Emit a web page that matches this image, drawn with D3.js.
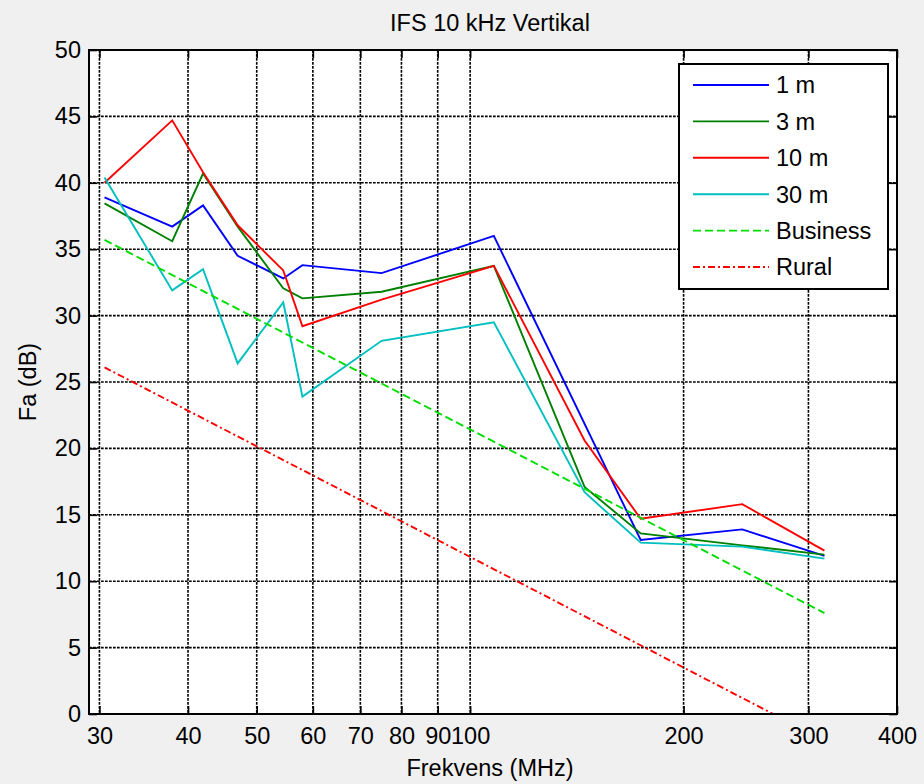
<!DOCTYPE html>
<html>
<head>
<meta charset="utf-8">
<script src="https://cdn.jsdelivr.net/npm/d3@7"></script>
<style>
  body { margin: 0; background: #f0f0f0; }
  svg text { font-family: "Liberation Sans", Arial, sans-serif; fill: #000; }
</style>
</head>
<body>
<div id="chart"></div>
<script>
// frequencies (MHz) where the measurements were taken
const freqs = [30.5, 38, 42, 47, 54.5, 58, 75, 108, 145, 174, 242, 316];

// Fa (dB) per antenna height, null = no point
const h1m = [38.9, 36.7, 38.3, 34.5, 32.8, 33.8, 33.2, 36.0, null, 13.1, 13.9, 11.9];
const h3m = [38.45, 35.6, 40.7, 36.7, 32.05, 31.3, 31.8, 33.75, 17.1, 13.6, 12.7, 12.0];
const h10m = [40.0, 44.7, 40.8, 36.8, 33.4, 29.2, 31.2, 33.75, 20.6, 14.7, 15.8, 12.3];
const h30m = [40.4, 31.9, 33.5, 26.4, 31.0, 23.9, 28.1, 29.5, 16.7, 12.9, 12.6, 11.7];

// reference curves (straight in log f)
const refFreqs = [30.5, 316];
const business = [35.7, 7.6];
const rural = [26.1, -2.0];

const xTicks = [30, 40, 50, 60, 70, 80, 90, 100, 200, 300, 400];
const yTicks = [0, 5, 10, 15, 20, 25, 30, 35, 40, 45, 50];

const W = 924, H = 784;
const pLeft = 89, pRight = 897, pTop = 50, pBottom = 714;
const fs = 23.5;

const svg = d3.select('#chart').append('svg')
  .attr('width', W).attr('height', H);

svg.append('rect').attr('width', W).attr('height', H).attr('fill', '#f0f0f0');

const x = d3.scaleLog().domain([29, 400]).range([pLeft, pRight]);
const y = d3.scaleLinear().domain([0, 50]).range([pBottom, pTop]);

svg.append('rect')
  .attr('x', pLeft).attr('y', pTop)
  .attr('width', pRight - pLeft).attr('height', pBottom - pTop)
  .attr('fill', '#fff');

// grid
const grid = svg.append('g');
grid.selectAll('.gx').data(xTicks.slice(0, -1)).join('line')
  .attr('class', 'gx')
  .attr('x1', d => x(d)).attr('x2', d => x(d))
  .attr('y1', pTop).attr('y2', pBottom);
grid.selectAll('.gy').data(yTicks.slice(1, -1)).join('line')
  .attr('class', 'gy')
  .attr('x1', pLeft).attr('x2', pRight)
  .attr('y1', d => y(d)).attr('y2', d => y(d));
grid.selectAll('line')
  .attr('stroke', '#000').attr('stroke-width', 1.6)
  .attr('stroke-dasharray', '2.7,1.3');

// axes with inward ticks
const fmt = d3.format('d');
const xAxis = svg.append('g').attr('transform', `translate(0,${pBottom})`)
  .call(d3.axisBottom(x).tickValues(xTicks).tickFormat(fmt).tickSize(-8).tickPadding(13));
const xTop = svg.append('g').attr('transform', `translate(0,${pTop})`)
  .call(d3.axisTop(x).tickValues(xTicks).tickFormat('').tickSize(-8));
const yAxis = svg.append('g').attr('transform', `translate(${pLeft},0)`)
  .call(d3.axisLeft(y).tickValues(yTicks).tickSize(-8).tickPadding(8));
const yRight = svg.append('g').attr('transform', `translate(${pRight},0)`)
  .call(d3.axisRight(y).tickValues(yTicks).tickFormat('').tickSize(-8));

[xAxis, xTop, yAxis, yRight].forEach(g => {
  g.select('.domain').remove();
  g.selectAll('.tick line').attr('stroke', '#000').attr('stroke-width', 1.6);
  g.selectAll('.tick text').attr('font-size', fs).attr('font-family', '"Liberation Sans", Arial, sans-serif');
});
xAxis.selectAll('.tick text').attr('dy', '0.71em');

// data lines
svg.append('clipPath').attr('id', 'clip').append('rect')
  .attr('x', pLeft).attr('y', pTop)
  .attr('width', pRight - pLeft).attr('height', pBottom - pTop);

const plot = svg.append('g').attr('clip-path', 'url(#clip)');

const series = [
  { name: '1 m', xs: freqs, ys: h1m, color: '#0000ff', dash: null },
  { name: '3 m', xs: freqs, ys: h3m, color: '#008000', dash: null },
  { name: '10 m', xs: freqs, ys: h10m, color: '#ff0000', dash: null },
  { name: '30 m', xs: freqs, ys: h30m, color: '#00bfbf', dash: null },
  { name: 'Business', xs: refFreqs, ys: business, color: '#00dd00', dash: '8,4' },
  { name: 'Rural', xs: refFreqs, ys: rural, color: '#ff0000', dash: '7,3,2,3' }
];

const line = d3.line()
  .x(d => x(d[0]))
  .y(d => y(d[1]));

series.forEach(s => {
  const pts = s.xs.map((f, i) => [f, s.ys[i]]).filter(d => d[1] != null);
  plot.append('path')
    .datum(pts)
    .attr('d', line)
    .attr('fill', 'none')
    .attr('stroke', s.color)
    .attr('stroke-width', 1.9)
    .attr('stroke-dasharray', s.dash);
});

// box
svg.append('rect')
  .attr('x', pLeft).attr('y', pTop)
  .attr('width', pRight - pLeft).attr('height', pBottom - pTop)
  .attr('fill', 'none').attr('stroke', '#000').attr('stroke-width', 2);

// legend
const lg = svg.append('g');
lg.append('rect')
  .attr('x', 679).attr('y', 64).attr('width', 209).attr('height', 225)
  .attr('fill', '#fff').attr('stroke', '#000').attr('stroke-width', 2);
series.forEach((s, i) => {
  const ly = 85 + i * 36.4;
  lg.append('line')
    .attr('x1', 693).attr('x2', 769).attr('y1', ly).attr('y2', ly)
    .attr('stroke', s.color).attr('stroke-width', 1.9)
    .attr('stroke-dasharray', s.dash);
  lg.append('text')
    .attr('x', 776).attr('y', ly).attr('dy', '0.36em')
    .attr('font-size', fs).text(s.name);
});

// titles
svg.append('text').attr('x', 490).attr('y', 31)
  .attr('text-anchor', 'middle').attr('font-size', fs).text('IFS 10 kHz Vertikal');
svg.append('text').attr('x', 490).attr('y', 776)
  .attr('text-anchor', 'middle').attr('font-size', fs).text('Frekvens (MHz)');
svg.append('text')
  .attr('transform', `translate(36,${(pTop + pBottom) / 2}) rotate(-90)`)
  .attr('text-anchor', 'middle').attr('font-size', fs).text('Fa (dB)');
</script>
</body>
</html>
